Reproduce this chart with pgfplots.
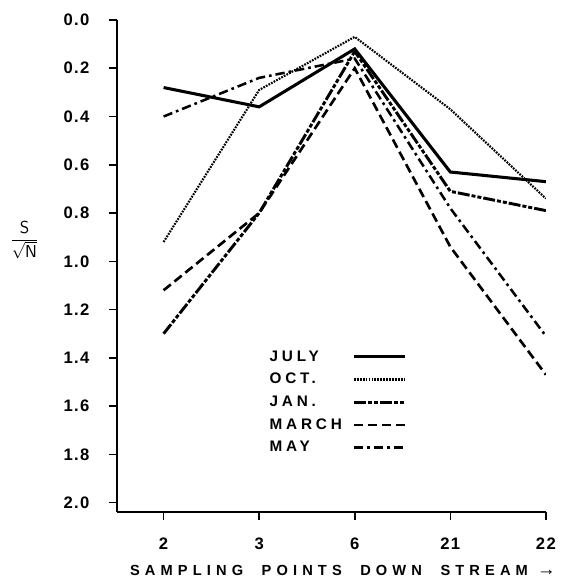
\documentclass[border=0pt]{standalone}
\usepackage{pgfplots}
\pgfplotsset{compat=1.18}
\usepackage{fontspec}
\setmainfont{Liberation Sans}
\newfontfamily\spaced[LetterSpace=35]{Liberation Sans}
\newfontfamily\tickfont[LetterSpace=8]{Liberation Sans}
\newfontfamily\legfont[LetterSpace=25]{Liberation Sans}
\begin{document}
\begin{tikzpicture}
\begin{axis}[
  scale only axis,
  width=322.5pt, height=370pt,
  xmin=-0.49, xmax=4,
  ymin=0, ymax=2.04,
  y dir=reverse,
  axis lines=left,
  axis line style={-, line width=1.4pt},
  xtick={0,1,2,3,4},
  xticklabels={2,3,6,21,22},
  ytick={0,0.2,...,2.0},
  yticklabel={\pgfmathprintnumber[fixed,precision=1,zerofill]{\tick}},
  /pgf/number format/assume math mode=true,
  tick align=outside,
  major tick length=6pt,
  tick style={line width=1.2pt, black},
  tick label style={font=\fontsize{12.5}{14}\selectfont\bfseries\tickfont},
  yticklabel style={xshift=-11pt},
  xticklabel style={yshift=-10pt},
  xlabel={\fontsize{11}{13}\selectfont\bfseries\spaced SAMPLING\hspace{7pt} POINTS\hspace{7pt} DOWN\hspace{7pt} STREAM {\fontsize{14}{14}\selectfont →}},
  xlabel style={at={(axis description cs:0.527,-0.118)}, anchor=center},
  ylabel={\fontsize{13}{16}\selectfont$\displaystyle\frac{\mathsf{S}}{\sqrt{\mathsf{N}}}$},
  ylabel style={rotate=-90, at={(axis description cs:-0.215,0.554)}, anchor=center},
  legend style={draw=none, fill=none, at={(axis description cs:0.34,0.34)}, anchor=north west,
    font=\fontsize{11.5}{13}\selectfont\bfseries\legfont, row sep=3.6pt, cells={anchor=west}},
  legend plot pos=right,
  legend image code/.code={\draw[#1] (0pt,0pt) -- (38pt,0pt);},
]
\addplot[black, line width=2.3pt] coordinates {(0,0.28) (1,0.36) (2,0.12) (3,0.63) (4,0.67)};
\addlegendentry{JULY}
\addplot[black, line width=1.6pt, dash pattern=on 1.3pt off 0.9pt] coordinates {(0,0.92) (1,0.29) (2,0.07) (3,0.37) (4,0.74)};
\addlegendentry{OCT.}
\addplot[black, line width=2.2pt, dash pattern=on 9pt off 1.5pt on 3pt off 1.5pt on 3pt off 1.5pt] coordinates {(0,1.30) (1,0.80) (2,0.13) (3,0.71) (4,0.79)};
\addlegendentry{JAN.}
\addplot[black, line width=2pt, dash pattern=on 7pt off 3.5pt] coordinates {(0,1.12) (1,0.80) (2,0.20) (3,0.94) (4,1.47)};
\addlegendentry{MARCH\kern6pt\null}
\addplot[black, line width=1.9pt, dash pattern=on 7pt off 3pt on 2pt off 3pt] coordinates {(0,0.40) (1,0.24) (2,0.16) (3,0.78) (4,1.31)};
\addlegendentry{MAY}
\end{axis}
\path[use as bounding box] ([xshift=-87.75pt, yshift=-50.25pt]current axis.south west) rectangle ([xshift=9pt, yshift=15pt]current axis.north east);
\end{tikzpicture}
\end{document}
